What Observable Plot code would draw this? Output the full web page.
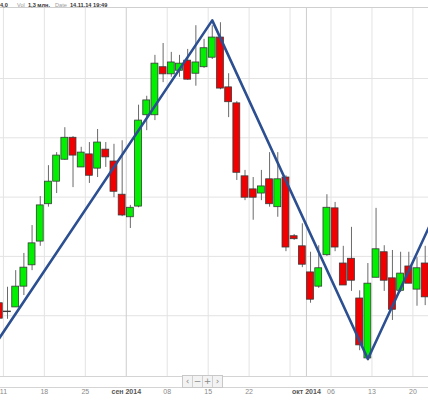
<!DOCTYPE html>
<html><head><meta charset="utf-8">
<script src="https://cdn.jsdelivr.net/npm/d3@7"></script>
<script src="https://cdn.jsdelivr.net/npm/@observablehq/plot@0.6"></script>
<style>
body{margin:0;background:#fff;font-family:"Liberation Sans",Arial,sans-serif;}
#wrap{position:relative;width:428px;height:400px;overflow:hidden;background:#fff}
#hdr{height:7px;border-bottom:1px solid #cfcfcf;font-size:5.6px;line-height:6px;white-space:nowrap;position:relative}
#hdr span{position:absolute;top:1.5px}
.k{color:#9a9a9a}
.v{color:#333;font-weight:bold}
#chart svg{display:block}
#nav{position:absolute;left:0;top:376px;width:428px;height:10px;border-top:1px solid #d4d4d4;border-bottom:1px solid #d4d4d4;background:#fff}
#btns{position:absolute;left:182px;top:375px;height:11px;display:flex;border:1px solid #c8c8c8;background:#f3f3f3}
#btns div{width:9px;height:11px;border-left:1px solid #d0d0d0;color:#8a8a8a;font-size:9px;line-height:11px;text-align:center;font-family:"DejaVu Sans",sans-serif}
#btns div:first-child{border-left:none}
</style></head>
<body><div id="wrap">
<div id="hdr"><span class="v" style="left:0">4,0</span><span class="k" style="left:17px">Vol</span><span class="v" style="left:28px">1,3 млн.</span><span class="k" style="left:55px">Date</span><span class="v" style="left:70px">14.11.14 19:49</span></div>
<div id="chart"></div>
<div id="nav"></div>
<div id="btns"><div>‹</div><div>−</div><div>+</div><div>›</div></div>
</div>
<script>
// ---- data ----
const dates = ["2014-08-08","2014-08-11","2014-08-12","2014-08-13","2014-08-14","2014-08-15",
"2014-08-18","2014-08-19","2014-08-20","2014-08-21","2014-08-22",
"2014-08-25","2014-08-26","2014-08-27","2014-08-28","2014-08-29",
"2014-09-01","2014-09-02","2014-09-03","2014-09-04","2014-09-05",
"2014-09-08","2014-09-09","2014-09-10","2014-09-11","2014-09-12",
"2014-09-15","2014-09-16","2014-09-17","2014-09-18","2014-09-19",
"2014-09-22","2014-09-23","2014-09-24","2014-09-25","2014-09-26",
"2014-09-29","2014-09-30","2014-10-01","2014-10-02","2014-10-03",
"2014-10-06","2014-10-07","2014-10-08","2014-10-09","2014-10-10",
"2014-10-13","2014-10-14","2014-10-15","2014-10-16","2014-10-17",
"2014-10-20","2014-10-21"];
const open  = [36.21,36.06,36.14,36.49,36.85,37.25, 37.88,38.26,38.63,39.00,38.50, 38.72,38.48,38.80,38.60,38.04,
               37.66,37.84,39.38,39.38,40.19, 40.07,40.13,40.30,40.08,40.19, 40.35,40.69,39.85,39.58,38.35,
               38.13,38.06,38.30,37.83,38.33, 37.34,37.17,36.73,36.49,37.02, 37.81,36.88,36.96,36.29,35.28,
               36.64,37.07,36.63,36.42,36.83, 36.44,36.88];
const close = [35.95,36.07,36.49,36.81,37.22,37.86, 38.26,38.70,39.00,38.70,38.75, 38.36,38.92,38.67,38.09,37.69,
               37.82,39.29,39.63,40.25,40.07, 40.27,40.25,39.98,40.27,40.51, 40.69,39.83,39.60,38.41,37.99,
               37.99,38.18,37.88,38.30,37.15, 37.29,36.86,36.27,36.80,37.82, 37.15,36.51,36.59,35.50,36.54,
               37.12,36.59,36.10,36.71,36.54, 36.80,36.31];
const high  = [36.26,36.48,36.76,37.05,37.52,38.01, 38.53,38.75,39.17,39.02,38.84, 38.92,39.14,38.92,38.89,38.95,
               37.86,39.55,39.70,40.39,40.59, 40.44,40.39,40.49,40.89,40.66, 40.89,40.94,40.08,39.61,38.45,
               38.33,38.45,38.75,38.75,38.36, 37.37,37.55,37.07,37.18,38.04, 37.91,37.17,37.49,36.42,36.88,
               37.81,37.18,37.10,37.07,37.07, 36.98,37.17];
const low   = [35.92,35.94,36.14,36.34,36.76,37.17, 37.83,38.06,38.62,38.16,38.50, 38.23,38.33,38.50,37.99,37.67,
               37.47,37.82,39.12,39.29,39.93, 40.02,40.02,39.97,39.87,40.17, 40.32,39.81,39.34,38.28,37.94,
               37.61,37.94,37.83,37.66,37.08, 37.27,36.81,36.21,36.46,37.00, 37.08,36.51,36.41,35.41,35.24,
               36.64,36.41,35.92,36.39,36.54, 36.16,36.17];
const zigzagDates  = ["2014-08-06","2014-09-15","2014-10-10","2014-10-24"];
const zigzagValues = [35.21, 40.98, 35.27, 38.25];
const gridDates  = ["2014-08-11","2014-08-18","2014-08-25","2014-09-08","2014-09-15","2014-09-22","2014-09-29","2014-10-06","2014-10-13","2014-10-20"];
const monthDates = ["2014-09-01","2014-10-01"];
const dayTickDates  = ["2014-08-11","2014-08-18","2014-08-25","2014-09-08","2014-09-15","2014-09-22","2014-10-06","2014-10-13","2014-10-20"];
const dayTickLabels = ["11","18","25","08","15","22","06","13","20"];
const monthTickLabels = ["сен 2014","окт 2014"];
const priceLevels = [36, 37, 38, 39, 40];

// ---- trading-day index (weekdays only) ----
const base = Date.UTC(2014, 7, 8);
function tIndex(s) {
  const t = Date.parse(s + "T00:00:00Z");
  const step = t >= base ? 1 : -1;
  let n = 0, c = new Date(base);
  while (c.getTime() !== t) {
    c.setUTCDate(c.getUTCDate() + step);
    const wd = c.getUTCDay();
    if (wd !== 0 && wd !== 6) n += step;
  }
  return n;
}

const candles = dates.map((d, i) => ({k: tIndex(d), open: open[i], close: close[i], high: high[i], low: low[i], up: close[i] >= open[i]}));
const zig = zigzagDates.map((d, i) => ({k: tIndex(d), v: zigzagValues[i]}));
const grid = gridDates.map(d => tIndex(d) - 0.5);
const mgrid = monthDates.map(d => tIndex(d) - 0.5);
const dayTicks = dayTickDates.map((d, i) => ({x: tIndex(d) - 0.5, label: dayTickLabels[i]}));
const monthTicks = monthDates.map((d, i) => ({x: tIndex(d) - 0.5, label: monthTickLabels[i]}));

const chart = Plot.plot({
  width: 428, height: 392,
  marginTop: 0, marginBottom: 24, marginLeft: 0, marginRight: 0,
  style: {fontFamily: "'Liberation Sans', Arial, sans-serif", background: "#fff"},
  x: {type: "linear", domain: [0.145, 52.404], axis: null},
  y: {domain: [34.975, 41.18], axis: null},
  marks: [
    Plot.ruleY(priceLevels, {stroke: "#e3e3e3", strokeWidth: 1}),
    Plot.ruleX(grid, {stroke: "#e3e3e3", strokeWidth: 1}),
    Plot.ruleX(mgrid, {stroke: "#cdcdcd", strokeWidth: 1}),
    Plot.ruleX(candles, {x: "k", y1: "low", y2: "high", stroke: "#6a6a6a", strokeWidth: 1, clip: true}),
    Plot.rect(candles, {x1: d => d.k - 0.42, x2: d => d.k + 0.42, y1: "open", y2: "close",
      fill: d => d.up ? "#00f000" : "#f00000", stroke: "#3a3a3a", strokeWidth: 0.8, clip: true}),
    Plot.line(zig, {x: "k", y: "v", stroke: "#2c4f92", strokeWidth: 2.6, clip: true}),
    Plot.text(dayTicks, {x: "x", text: "label", frameAnchor: "bottom", dy: 17, fontSize: 7, fill: "#8a8a8a"}),
    Plot.text(monthTicks, {x: "x", text: "label", frameAnchor: "bottom", dy: 17, fontSize: 7, fontWeight: "bold", fill: "#555"})
  ]
});
document.getElementById("chart").appendChild(chart);
</script>
</body></html>
